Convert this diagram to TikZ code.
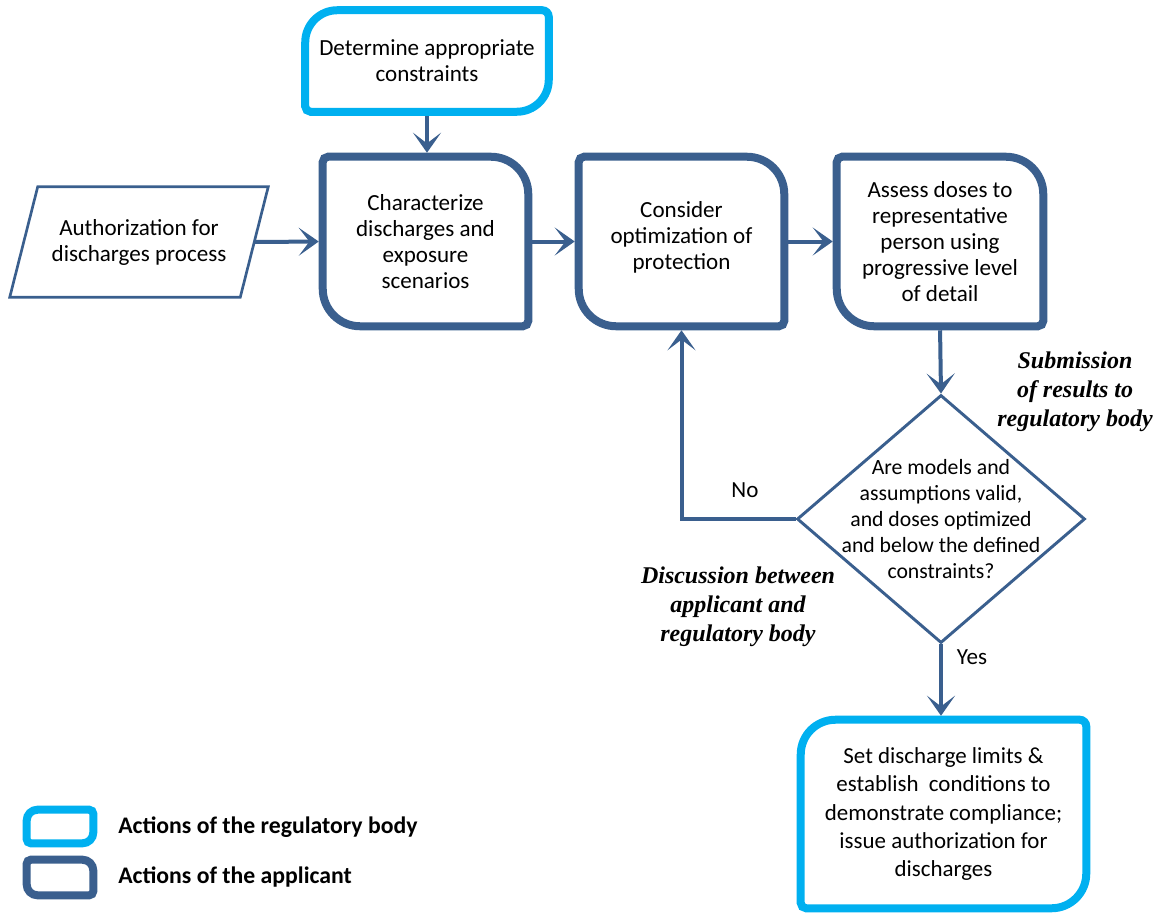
\documentclass[tikz,border=0pt]{standalone}
\usepackage{fontspec}
\setmainfont{Carlito}
\newfontfamily\serifbi{Liberation Serif}
\usetikzlibrary{arrows.meta,shapes.geometric,calc}
\definecolor{regcyan}{HTML}{00B0F0}
\definecolor{appblue}{HTML}{3A5F8E}
% #1 style, #2 node, #3 r NW, #4 r NE, #5 r SE, #6 r SW
\newcommand{\cornerbox}[6]{%
  \draw[#1] ([xshift=#3]#2.north west) -- ([xshift=-#4]#2.north east)
    arc[start angle=90,end angle=0,radius=#4]
    -- ([yshift=#5]#2.south east)
    arc[start angle=0,end angle=-90,radius=#5]
    -- ([xshift=#6]#2.south west)
    arc[start angle=270,end angle=180,radius=#6]
    -- ([yshift=-#3]#2.north west)
    arc[start angle=180,end angle=90,radius=#3] -- cycle;}
\begin{document}
\begin{tikzpicture}[x=0.75pt,y=-0.75pt,
  txt/.style={font=\fontsize{17.3}{19.5}\selectfont, align=center, inner sep=0pt},
  lbl/.style={font=\serifbi\bfseries\itshape\fontsize{18}{21.75}\selectfont, align=center, inner sep=0pt},
  legtxt/.style={font=\bfseries\fontsize{17.8}{20}\selectfont, anchor=west, inner sep=0pt},
  regline/.style={draw=regcyan, line width=6pt},
  appline/.style={draw=appblue, line width=6pt},
  arr/.style={draw=appblue, line width=3pt, -{Stealth[length=15pt,width=21pt,inset=8pt]}},
]
\useasboundingbox (0,0) rectangle (1156,913);

% top regulatory box
\node[txt, minimum width=0.75*243pt, minimum height=0.75*101pt] (dac) at (427,61) {Determine appropriate\\constraints};
\cornerbox{regline}{dac}{24pt}{5pt}{24pt}{4pt}

% parallelogram
\node[txt, minimum width=0.75*230pt, minimum height=0.75*110pt] (auth) at (139,242) {Authorization for\\discharges process};
\draw[draw=appblue, line width=2pt] ([xshift=0.75*14pt]auth.north west) -- ([xshift=0.75*14pt]auth.north east)
  -- ([xshift=-0.75*14pt]auth.south east) -- ([xshift=-0.75*14pt]auth.south west) -- cycle;

% applicant boxes
\node[txt, minimum width=0.75*205pt, minimum height=0.75*169pt] (char) at (425.5,241.5) {Characterize\\discharges and\\exposure\\scenarios};
\cornerbox{appline}{char}{4pt}{28pt}{4pt}{28pt}
\node[txt, minimum width=0.75*205pt, minimum height=0.75*169pt] (cons) at (681.5,241.5) {};
\node[txt] (constxt) at (681.5,237) {Consider\\optimization of\\protection};
\cornerbox{appline}{cons}{4pt}{28pt}{4pt}{28pt}
\node[txt, minimum width=0.75*206pt, minimum height=0.75*169pt] (asse) at (940,241.5) {Assess doses to\\representative\\person using\\progressive level\\of detail};
\cornerbox{appline}{asse}{4pt}{28pt}{4pt}{28pt}

% decision
\node[draw=appblue, line width=2.2pt, diamond, inner sep=0pt, minimum width=0.75*288pt, minimum height=0.75*248pt] (dec) at (941,519) {};
\node[txt, font=\fontsize{16.3}{19.5}\selectfont] (dectxt) at (941,519) {Are models and\\assumptions valid,\\and doses optimized\\and below the defined\\constraints?};

% final regulatory box
\node[txt, font=\fontsize{17.2}{21.3}\selectfont, minimum width=0.75*285pt, minimum height=0.75*188pt] (fin) at (943.5,814) {Set discharge limits \&\\establish\ \ conditions to\\demonstrate compliance;\\issue authorization for\\discharges};
\cornerbox{regline}{fin}{26pt}{5pt}{26pt}{4pt}

% connectors
\draw[arr, shorten >=3pt] (auth.east) -- (char.west);
\draw[arr, shorten <=3pt, shorten >=3pt] (char.east) -- (cons.west);
\draw[arr, shorten <=3pt, shorten >=3pt] (cons.east) -- (asse.west);
\draw[arr, shorten <=3pt, shorten >=3pt] (dac.south) -- (dac.south |- char.north);
\draw[arr, shorten <=3pt] (asse.south) -- (dec.north);
\draw[arr, shorten >=3pt] (dec.west) -| (cons.south);
\draw[arr, shorten >=3pt] (dec.south) -- (dec.south |- fin.north);

% labels
\node[txt] (no) at (745,490) {No};
\node[txt] (yes) at (972,657) {Yes};
\node[lbl] (subm) at (1075,392) {Submission\\of results to\\regulatory body};
\node[lbl] (disc) at (738,607) {Discussion between\\applicant and\\regulatory body};

% legend
\node[minimum width=0.75*66pt, minimum height=0.75*33pt, inner sep=0pt] (legreg) at (60,826.5) {};
\cornerbox{regline}{legreg}{8pt}{3pt}{8pt}{3pt}
\node[minimum width=0.75*66pt, minimum height=0.75*35pt, inner sep=0pt] (legapp) at (60,877.5) {};
\cornerbox{appline}{legapp}{3pt}{8pt}{3pt}{8pt}
\node[legtxt] (legregt) at (118,827) {Actions of the regulatory body};
\node[legtxt] (legappt) at (118,877) {Actions of the applicant};
\end{tikzpicture}
\end{document}
